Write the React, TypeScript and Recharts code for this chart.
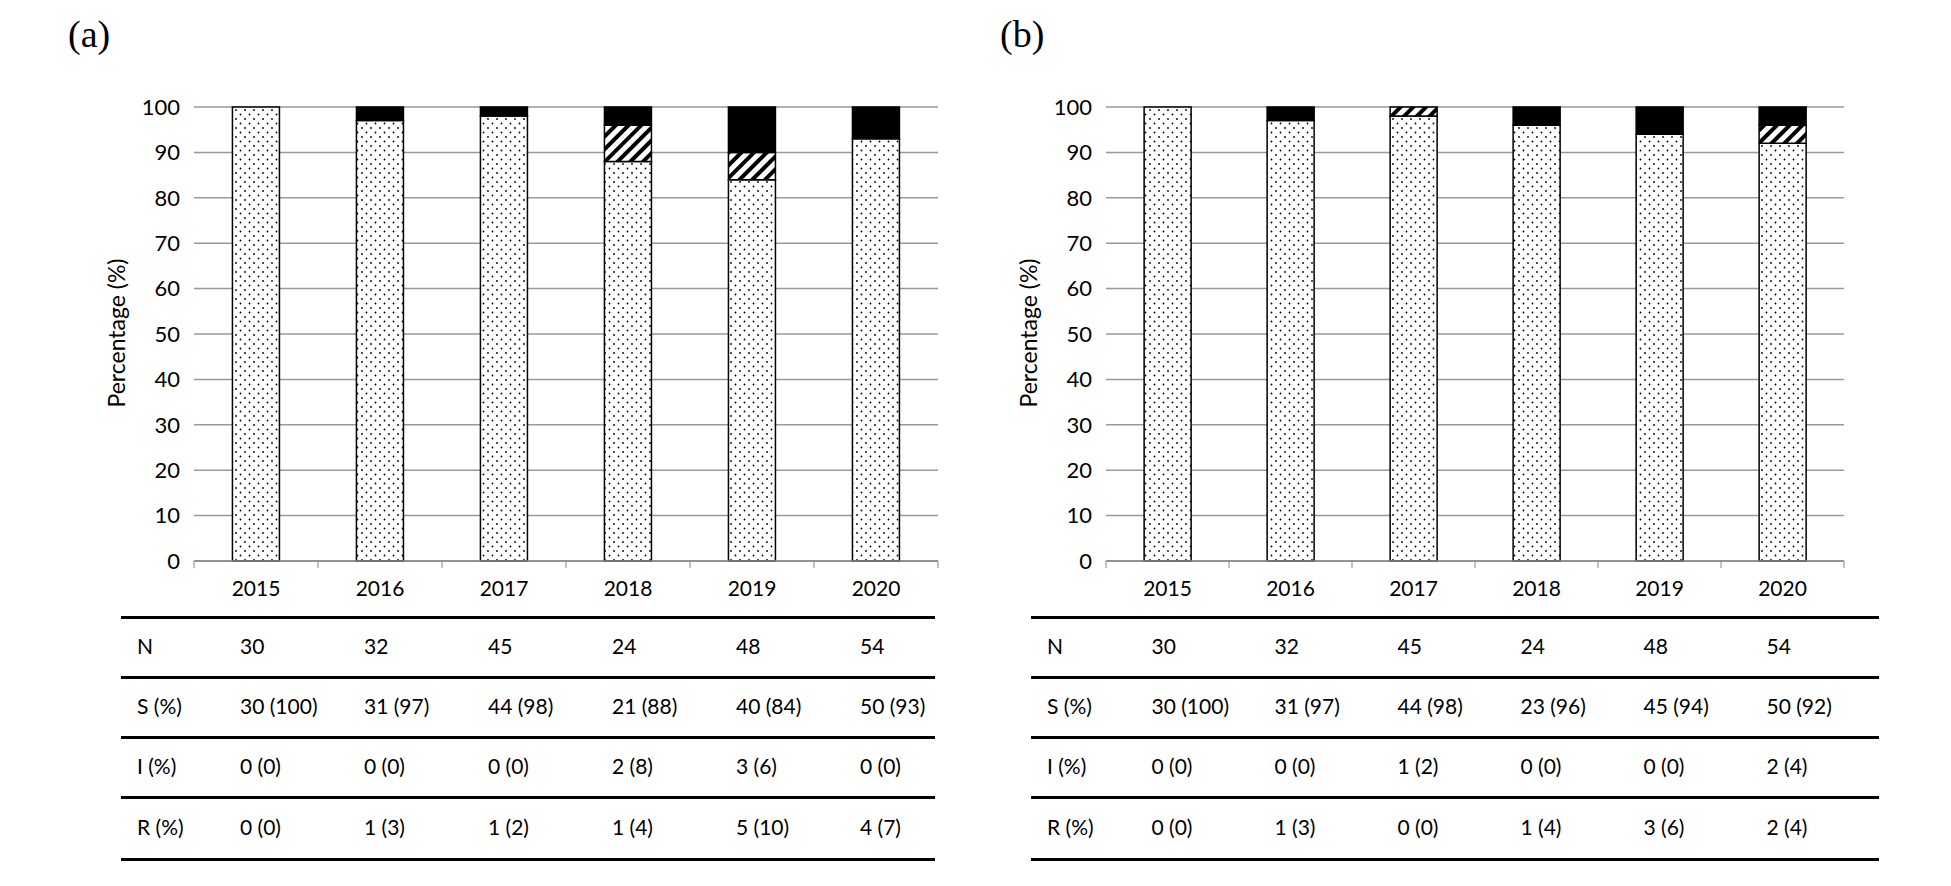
import { BarChart, Bar, XAxis, YAxis, CartesianGrid } from 'recharts';

const years = ['2015', '2016', '2017', '2018', '2019', '2020'];
const countsA = [30, 32, 45, 24, 48, 54];
const sA = [100, 97, 98, 88, 84, 93];
const iA = [0, 0, 0, 8, 6, 0];
const rA = [0, 3, 2, 4, 10, 7];
const rowsA = [
  ['30', '32', '45', '24', '48', '54'],
  ['30 (100)', '31 (97)', '44 (98)', '21 (88)', '40 (84)', '50 (93)'],
  ['0 (0)', '0 (0)', '0 (0)', '2 (8)', '3 (6)', '0 (0)'],
  ['0 (0)', '1 (3)', '1 (2)', '1 (4)', '5 (10)', '4 (7)'],
];
const countsB = [30, 32, 45, 24, 48, 54];
const sB = [100, 97, 98, 96, 94, 92];
const iB = [0, 0, 2, 0, 0, 4];
const rB = [0, 3, 0, 4, 6, 4];
const rowsB = [
  ['30', '32', '45', '24', '48', '54'],
  ['30 (100)', '31 (97)', '44 (98)', '23 (96)', '45 (94)', '50 (92)'],
  ['0 (0)', '0 (0)', '1 (2)', '0 (0)', '0 (0)', '2 (4)'],
  ['0 (0)', '1 (3)', '0 (0)', '1 (4)', '3 (6)', '2 (4)'],
];
const rowLabels = ['N', 'S (%)', 'I (%)', 'R (%)'];
const yTicks = [0, 10, 20, 30, 40, 50, 60, 70, 80, 90, 100];

const FONT = 'Lato, "Open Sans", sans-serif';
const H = 640;
const TOP = 107;
const BOTTOM_Y = 561;
const XAXIS_H = 30;

function Panel({ id, label, x0, axisL, axisR, tableL, tableR, s, i, r, rows, n }: any) {
  // axisL / axisR are relative to the panel; tableL / tableR are page coordinates
  const W = axisR + 20;
  const band = (axisR - axisL) / years.length;
  const data = years.map((y, k) => ({ year: y, S: s[k], I: i[k], R: r[k], n: n[k] }));
  const Tick = (p: any) => {
    const last = p.index === years.length - 1;
    return (
      <g>
        <line x1={p.x - band / 2} x2={p.x - band / 2} y1={p.y - 8} y2={p.y - 1} stroke="#888" />
        {last && <line x1={p.x + band / 2} x2={p.x + band / 2} y1={p.y - 8} y2={p.y - 1} stroke="#888" />}
        <text x={p.x} y={p.y + 27} textAnchor="middle" fontSize={21} fontFamily={FONT} fill="#000">{p.payload.value}</text>
      </g>
    );
  };
  const lines = [617, 677, 737, 797, 859];
  return (
    <div style={{ position: 'absolute', left: x0, top: 0, width: W, height: 886 }}>
      <div style={{ position: 'absolute', left: label === '(a)' ? 68 : 68, top: 12, fontFamily: '"Liberation Serif", serif', fontSize: 38 }}>{label}</div>
      <div style={{ position: 'absolute', left: axisL - 78 - 100, top: (TOP + BOTTOM_Y) / 2 - 15, width: 200, textAlign: 'center', transform: 'rotate(-90deg)', fontFamily: FONT, fontSize: 23, whiteSpace: 'nowrap' }}>Percentage (%)</div>
      <BarChart width={W} height={H} data={data} barCategoryGap="31%"
        margin={{ top: TOP, right: W - axisR, left: 0, bottom: H - BOTTOM_Y - XAXIS_H }}>
        <defs>
          <pattern id={id + 'dots'} width="9" height="9" patternUnits="userSpaceOnUse">
            <rect width="9" height="9" fill="#fff" />
            <circle cx="2" cy="2" r="0.9" fill="#000" />
            <circle cx="6.5" cy="6.5" r="0.9" fill="#000" />
          </pattern>
          <pattern id={id + 'hatch'} width="9" height="9" patternUnits="userSpaceOnUse" patternTransform="rotate(45)">
            <rect width="9" height="9" fill="#fff" />
            <rect width="4" height="9" fill="#000" />
          </pattern>
        </defs>
        <CartesianGrid vertical={false} stroke="#999" strokeWidth={1.5} />
        <XAxis dataKey="year" height={XAXIS_H} tickLine={false} axisLine={{ stroke: '#888', strokeWidth: 1.5 }} tick={<Tick />} interval={0} />
        <YAxis domain={[0, 100]} ticks={yTicks} width={axisL} axisLine={false} tickLine={false}
          tick={{ fontSize: 22, fontFamily: FONT, fill: '#000' }} tickMargin={8} />
        <Bar dataKey="S" stackId="a" fill={`url(#${id}dots)`} stroke="#000" strokeWidth={1.5} isAnimationActive={false} />
        <Bar dataKey="I" stackId="a" fill={`url(#${id}hatch)`} stroke="#000" strokeWidth={1.5} isAnimationActive={false} />
        <Bar dataKey="R" stackId="a" fill="#000" stroke="#000" strokeWidth={1.5} isAnimationActive={false} />
      </BarChart>
      {lines.map((y) => (
        <div key={y} style={{ position: 'absolute', left: tableL - x0, width: tableR - tableL, top: y - 1, height: 2.5, background: '#000' }} />
      ))}
      {rowLabels.map((lab, ri) => (
        <div key={lab} style={{ position: 'absolute', left: 0, top: (lines[ri] + lines[ri + 1]) / 2 - 14 }}>
          <div style={{ position: 'absolute', left: tableL - x0 + 16, fontFamily: FONT, fontSize: 21, whiteSpace: 'nowrap' }}>{lab}</div>
          {rows[ri].map((t: string, k: number) => (
            <div key={k} style={{ position: 'absolute', left: axisL + band * (k + 0.5) - 16, fontFamily: FONT, fontSize: 21, whiteSpace: 'nowrap' }}>{t}</div>
          ))}
        </div>
      ))}
    </div>
  );
}

export default function App() {
  return (
    <div style={{ position: 'fixed', left: 0, top: 0, width: 1951, height: 886, background: '#fff', overflow: 'hidden' }}>
      <Panel id="a" label="(a)" x0={0} axisL={194} axisR={938} tableL={121} tableR={935}
        s={sA} i={iA} r={rA} rows={rowsA} n={countsA} />
      <Panel id="b" label="(b)" x0={932} axisL={1106 - 932} axisR={1844 - 932} tableL={1031} tableR={1879}
        s={sB} i={iB} r={rB} rows={rowsB} n={countsB} />
    </div>
  );
}
